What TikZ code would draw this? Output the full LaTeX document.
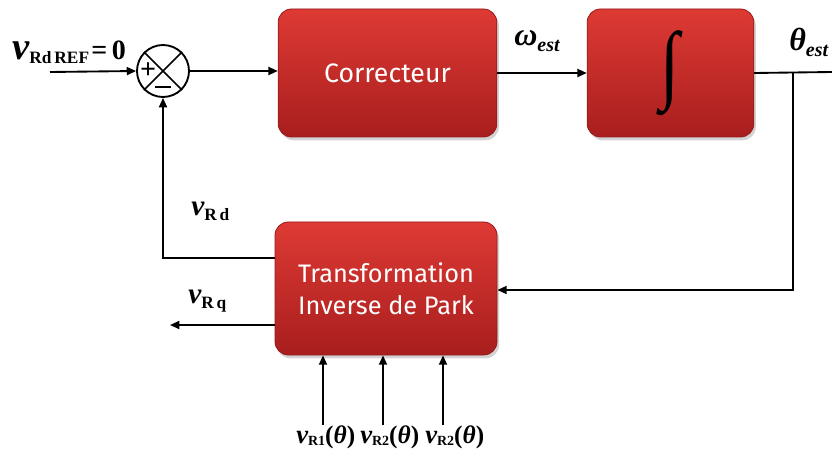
\documentclass[tikz,border=0pt]{standalone}
\usepackage{fontspec}
\usepackage{graphicx}
\setmainfont{Liberation Serif}
\newfontfamily\boxfont{Fira Sans}
\usetikzlibrary{arrows.meta,shadows,shapes.geometric,calc}
\definecolor{redtop}{RGB}{222,58,52}
\definecolor{redbot}{RGB}{168,30,30}
\definecolor{redline}{RGB}{150,25,25}
\newcommand{\bigint}{\scalebox{1}[1.25]{\bfseries\fontsize{52}{52}\selectfont ∫}}
\tikzset{
  blockbox/.style={draw=redline, line width=0.6pt, rounded corners=10pt,
    top color=redtop, bottom color=redbot,
    drop shadow={shadow xshift=1.5pt, shadow yshift=-2.5pt, opacity=0.35},
    text=white, font=\boxfont\fontsize{19}{23}\selectfont, align=center, inner sep=0pt},
  wire/.style={line width=1.4pt, black},
  arr/.style={wire, -{Triangle[length=7pt,width=6pt]}},
  lbl/.style={anchor=base west, inner sep=0pt, font=\bfseries\itshape},
  sign/.style={inner sep=0pt, font=\bfseries\fontsize{21}{21}\selectfont}
}
\begin{document}
\begin{tikzpicture}[x=0.75pt,y=-0.75pt]
\useasboundingbox (0,0) rectangle (832,456);
% blocks
\node[blockbox, minimum width=164pt, minimum height=96pt] (corr) at (387.5,73) {\fontsize{20}{24}\selectfont Correcteur};
\node[blockbox, minimum width=125pt, minimum height=96pt] (integ) at (670.5,73) {};
\node[black, inner sep=0pt] (intsym) at (670,73) {\bigint};
\node[blockbox, minimum width=166.5pt, minimum height=99.75pt] (park) at (386,288.5) {Transformation\\[1pt]Inverse de Park};
% summing junction
\node[circle, draw, line width=1.4pt, minimum size=39pt, inner sep=0pt] (sum) at (163,71) {};
\draw[line width=1.2pt] (sum.north west) -- (sum.south east) (sum.north east) -- (sum.south west);
\node[sign] (plus) at (148,71) {+};
\node[sign] (minus) at (163,89) {\rule[0.3ex]{0.55em}{1.4pt}};
% coordinates
\coordinate (in) at (50,72);
\coordinate (out) at (832,72);
\coordinate (br) at (793,72);
\coordinate (brd) at (793,290);
\coordinate (fbk) at (163,258);
\coordinate (vq) at (170,325);
\coordinate (b1) at (323,425);
\coordinate (b2) at (383,425);
\coordinate (b3) at (443,425);
% connectors
\draw[arr] (in) -- (sum.west);
\draw[arr] (sum.east) -- (corr.west |- sum.east);
\draw[arr] (corr.east) -- (integ.west);
\draw[wire] (integ.east) -- (out);
\draw[arr] (br) -- (brd) -- (park.east |- brd);
\draw[arr] (park.west |- fbk) -- (fbk) -- (sum.south);
\draw[arr] (park.west |- vq) -- (vq);
\draw[arr] (b1) -- (b1 |- park.south);
\draw[arr] (b2) -- (b2 |- park.south);
\draw[arr] (b3) -- (b3 |- park.south);
% labels
\node[lbl] (lref) at (12,60) {{\fontsize{29}{29}\selectfont v}\raisebox{-3pt}{\fontsize{13}{13}\selectfont\upshape Rd\,REF}\,{\fontsize{21}{21}\selectfont\upshape =\,0}};
\node[lbl] (lw) at (514,46) {{\fontsize{24}{24}\selectfont ω}\raisebox{-4pt}{\fontsize{15}{15}\selectfont est}};
\node[lbl] (lt) at (789,51) {{\fontsize{24}{24}\selectfont θ}\raisebox{-4pt}{\fontsize{15}{15}\selectfont est}};
\node[lbl] (lrd) at (191,215) {{\fontsize{22}{22}\selectfont v}\raisebox{-4pt}{\fontsize{13}{13}\selectfont\upshape R\,d}};
\node[lbl] (lrq) at (188,303) {{\fontsize{22}{22}\selectfont v}\raisebox{-4pt}{\fontsize{13}{13}\selectfont\upshape R\,q}};
\node[lbl] (lb1) at (296,443) {{\fontsize{20}{20}\selectfont v}\raisebox{-2pt}{\fontsize{10.5}{10.5}\selectfont\upshape R1}{\fontsize{19}{19}\selectfont\upshape(\textit{θ})}};
\node[lbl] (lb2) at (360,443) {{\fontsize{20}{20}\selectfont v}\raisebox{-2pt}{\fontsize{10.5}{10.5}\selectfont\upshape R2}{\fontsize{19}{19}\selectfont\upshape(\textit{θ})}};
\node[lbl] (lb3) at (425,443) {{\fontsize{20}{20}\selectfont v}\raisebox{-2pt}{\fontsize{10.5}{10.5}\selectfont\upshape R2}{\fontsize{19}{19}\selectfont\upshape(\textit{θ})}};
\end{tikzpicture}
\end{document}
